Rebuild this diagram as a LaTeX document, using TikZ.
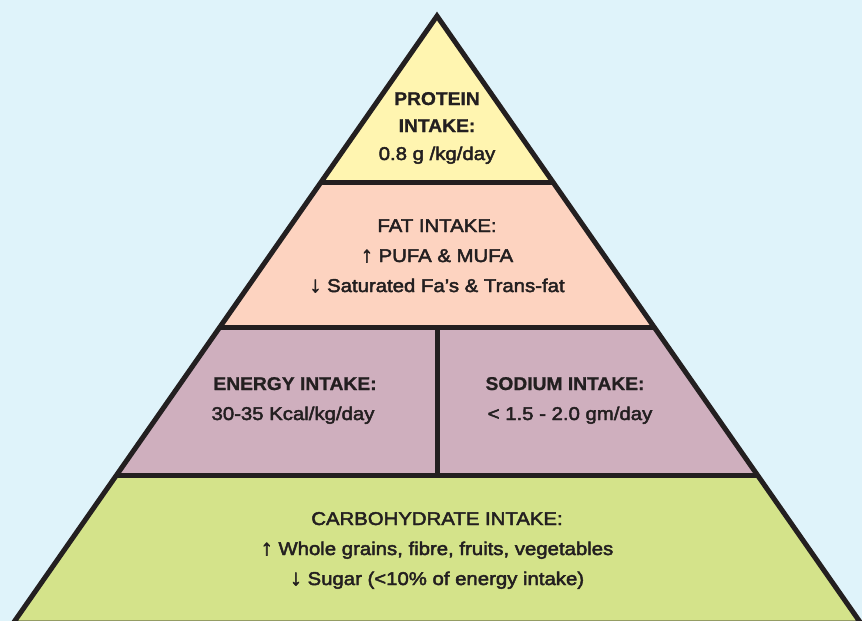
\documentclass[tikz,border=0pt]{standalone}
\usepackage{fontspec}
\setmainfont{Liberation Sans}
\newfontfamily\medfont[FakeBold=2.5,FakeStretch=1.1]{Liberation Sans}
\newfontfamily\headfont[FakeStretch=1.04,FakeBold=1]{Liberation Sans Bold}
\definecolor{bgblue}{HTML}{DFF3FA}
\definecolor{yel}{HTML}{FFF5B0}
\definecolor{pnk}{HTML}{FDD3C0}
\definecolor{mauve}{HTML}{CFAFBE}
\definecolor{grn}{HTML}{D4E38A}
\definecolor{ink}{HTML}{231F20}
\tikzset{
  edge/.style={draw=ink, line width=5pt},
  txt/.style={anchor=base, inner sep=0pt, text=ink, font=\medfont\fontsize{18.5}{22}\selectfont},
  head/.style={anchor=base, inner sep=0pt, text=ink, font=\headfont\fontsize{18.5}{22}\selectfont}
}
\newcommand{\upar}{{\fontsize{22}{22}\selectfont ↑}}
\newcommand{\dnar}{{\fontsize{22}{22}\selectfont ↓}}
\begin{document}
\begin{tikzpicture}[x=1pt,y=-1pt]
\fill[bgblue] (0,0) rectangle (862,621);
\useasboundingbox (0,0) rectangle (862,621);
\coordinate (A) at (437,16);
\coordinate (L1) at (321.1,182); \coordinate (R1) at (552.9,182);
\coordinate (L2) at (219.9,327); \coordinate (R2) at (654.1,327);
\coordinate (L3) at (116.6,475); \coordinate (R3) at (757.4,475);
\coordinate (L4) at (13.3,623); \coordinate (R4) at (860.7,623);
\coordinate (M2) at (437,327); \coordinate (M3) at (437,475);
\fill[yel] (A) -- (L1) -- (R1) -- cycle;
\fill[pnk] (L1) -- (L2) -- (R2) -- (R1) -- cycle;
\fill[mauve] (L2) -- (L3) -- (R3) -- (R2) -- cycle;
\fill[grn] (L3) -- (L4) -- (R4) -- (R3) -- cycle;
\draw[edge] (L1) -- (R1);
\draw[edge] (L2) -- (R2);
\draw[edge] (L3) -- (R3);
\draw[edge] (M2) -- (M3);
\draw[edge, line join=miter] (A) -- (L4) -- (R4) -- cycle;
% texts
\node[head] (p1) at (437,105) {PROTEIN};
\node[head] (p2) at (437,132) {INTAKE:};
\node[txt] (p3) at (437,160) {0.8 g /kg/day};
\node[txt] (f1) at (437,232) {FAT INTAKE:};
\node[txt] (f2) at (437,262) {\upar\ PUFA \& MUFA};
\node[txt] (f3) at (437,292) {\dnar\ Saturated Fa’s \& Trans-fat};
\node[head] (e1) at (295,390) {ENERGY INTAKE:};
\node[txt] (e2) at (293,420) {30-35 Kcal/kg/day};
\node[head] (s1) at (565,390) {SODIUM INTAKE:};
\node[txt] (s2) at (570,420) {< 1.5 - 2.0 gm/day};
\node[txt] (c1) at (437,525) {CARBOHYDRATE INTAKE:};
\node[txt] (c2) at (437,555) {\upar\ Whole grains, fibre, fruits, vegetables};
\node[txt] (c3) at (437,585) {\dnar\ Sugar (<10\% of energy intake)};
\end{tikzpicture}
\end{document}
